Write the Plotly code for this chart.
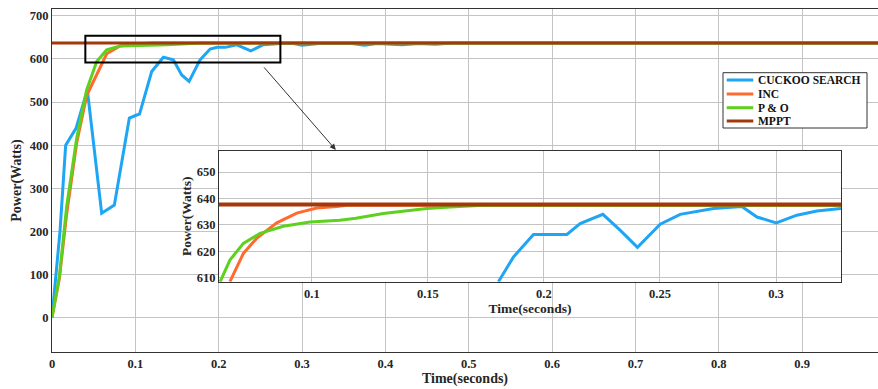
import plotly.graph_objects as go

# ---------------- main chart data ----------------
cs_t = [0, 0.0096, 0.0164, 0.0288, 0.0424, 0.0596, 0.0748, 0.0928, 0.1016, 0.105, 0.1196, 0.1336,
        0.1456, 0.1556, 0.1645, 0.1776, 0.1897, 0.198, 0.208, 0.2217, 0.2385, 0.2536, 0.2737,
        0.29, 0.30, 0.32, 0.36, 0.375, 0.39, 0.42, 0.44, 0.46, 0.48, 0.55, 0.6, 1.0]
cs_p = [0, 200, 400, 439, 528, 242, 261, 463, 470, 472, 571, 604,
        598, 563, 548, 598, 623, 627, 627, 633, 619, 633, 636,
        636, 632, 636, 636, 632, 636, 633, 636, 634, 637, 636, 637, 637]

inc_t = [0, 0.0088, 0.0176, 0.022, 0.0296, 0.0416, 0.0576, 0.0656, 0.0816, 0.1, 0.12, 1.0]
inc_p = [0, 90, 240, 305, 405, 515, 582, 612, 630, 635, 637, 637]

po_t = [0, 0.0088, 0.0176, 0.022, 0.0296, 0.0416, 0.0536, 0.0656, 0.0816, 0.138, 0.18, 1.0]
po_p = [0, 95, 258, 320, 416, 528, 594, 621, 630, 633, 637, 637]

mppt_t = [0, 1.0]
mppt_p = [637, 637]

# ---------------- inset data ----------------
in_cs_t = [0.1804, 0.1869, 0.1955, 0.2099, 0.2156, 0.2254, 0.2328, 0.2403, 0.2501, 0.2587,
           0.2731, 0.2853, 0.2918, 0.3001, 0.309, 0.3176, 0.328]
in_cs_p = [608.5, 617.9, 626.4, 626.4, 630.5, 634.0, 628.0, 621.5, 630.3, 634.0,
           636.2, 637.0, 633.0, 630.8, 633.7, 635.3, 636.2]

in_inc_t = [0.0647, 0.0705, 0.0762, 0.0849, 0.0935, 0.1021, 0.1107, 0.116, 0.33]
in_inc_p = [608.5, 619.2, 624.9, 630.8, 634.5, 636.4, 637.0, 637.5, 637.5]

in_po_t = [0.0605, 0.0647, 0.0705, 0.0777, 0.0877, 0.0992, 0.112, 0.119, 0.1308, 0.1495, 0.1596,
           0.174, 0.33]
in_po_p = [608.5, 616.7, 623.0, 626.8, 629.5, 631.1, 631.8, 632.5, 634.3, 636.2, 636.8,
           637.5, 637.5]

in_mppt_t = [0.06, 0.33]
in_mppt_p = [637.7, 637.7]

main_x_ticks = [0, 0.1, 0.2, 0.3, 0.4, 0.5, 0.6, 0.7, 0.8, 0.9]
main_x_labels = ["0", "0.1", "0.2", "0.3", "0.4", "0.5", "0.6", "0.7", "0.8", "0.9"]
main_y_ticks = [0, 100, 200, 300, 400, 500, 600, 700]
inset_x_ticks = [0.1, 0.15, 0.2, 0.25, 0.3]
inset_x_labels = ["0.1", "0.15", "0.2", "0.25", "0.3"]
inset_y_ticks = [610, 620, 630, 640, 650]

names = ["CUCKOO SEARCH", "INC", "P & O", "MPPT"]
colors = ["#1EA6F4", "#FF6A2E", "#5ED11E", "#A3380A"]

FONT = "Liberation Serif"
GRID = "#c4c4c4"
W, H = 878, 389
ML, MR, MT, MB = 52, 0, 9, 37
PW, PH = W - ML - MR, H - MT - MB


def px(X):
    return (X - ML) / PW


def py(Y):
    return (H - MB - Y) / PH


fig = go.Figure()

main_series = [(cs_t, cs_p), (inc_t, inc_p), (po_t, po_p), (mppt_t, mppt_p)]
for i, (t, p) in enumerate(main_series):
    fig.add_trace(go.Scatter(x=t, y=p, mode="lines", name=names[i],
                             line=dict(color=colors[i], width=3),
                             xaxis="x", yaxis="y", showlegend=False))

inset_series = [(in_cs_t, in_cs_p), (in_inc_t, in_inc_p), (in_po_t, in_po_p), (in_mppt_t, in_mppt_p)]
for i, (t, p) in enumerate(inset_series):
    fig.add_trace(go.Scatter(x=t, y=p, mode="lines", name=names[i],
                             line=dict(color=colors[i], width=3 if i < 3 else 4),
                             xaxis="x2", yaxis="y2", showlegend=False))

tickf = dict(family=FONT, size=12.5, color="#262626", weight="bold")
titlef = dict(family=FONT, size=14, color="#262626", weight="bold")
ititlef = dict(family=FONT, size=13.5, color="#262626", weight="bold")
common = dict(showgrid=True, gridcolor=GRID, gridwidth=1, zeroline=False,
              showline=True, linecolor="#333333", linewidth=1, mirror=True,
              tickfont=tickf, ticks="", automargin=False)

fig.update_layout(
    width=W, height=H,
    margin=dict(l=ML, r=MR, t=MT, b=MB),
    paper_bgcolor="#ffffff", plot_bgcolor="white",
    showlegend=False,
    xaxis=dict(domain=[0, 1], range=[0, 0.991], tickvals=main_x_ticks, ticktext=main_x_labels,
               title=dict(text="Time(seconds)", font=titlef, standoff=2), **common),
    yaxis=dict(domain=[0, 1], range=[-80, 716], tickvals=main_y_ticks,
               title=dict(text="Power(Watts)", font=titlef, standoff=4), **common),
    xaxis2=dict(domain=[px(219), px(841)], anchor="y2", range=[0.06, 0.328],
                tickvals=inset_x_ticks, ticktext=inset_x_labels,
                title=dict(text="Time(seconds)", font=ititlef, standoff=2), **common),
    yaxis2=dict(domain=[py(281.7), py(151)], anchor="x2", range=[608.5, 658],
                tickvals=inset_y_ticks,
                title=dict(text="Power(Watts)", font=ititlef, standoff=2), **common),
)

# zoom rectangle on main chart
fig.add_shape(type="rect", xref="x", yref="y", x0=0.04, x1=0.274, y0=592, y1=654,
              line=dict(color="black", width=2), fillcolor="rgba(0,0,0,0)", layer="above")

# arrow from rectangle to inset
fig.add_annotation(x=0.3405, y=389, xref="x", yref="y", ax=-73, ay=-84,
                   showarrow=True, arrowhead=2, arrowsize=1.2, arrowwidth=1,
                   arrowcolor="#333333", text="")

# custom compact legend (MATLAB style)
fig.add_shape(type="rect", xref="paper", yref="paper",
              x0=px(723), x1=px(867), y0=py(128), y1=py(72.7),
              line=dict(color="#333333", width=1), fillcolor="white", layer="above")
rows_y = [80, 94, 107.7, 121]
for i, name in enumerate(names):
    fig.add_shape(type="line", xref="paper", yref="paper",
                  x0=px(726.7), x1=px(753.3), y0=py(rows_y[i]), y1=py(rows_y[i]),
                  line=dict(color=colors[i], width=3), layer="above")
    fig.add_annotation(x=px(756), y=py(rows_y[i]), xref="paper", yref="paper",
                       text=name, showarrow=False, xanchor="left", yanchor="middle",
                       font=dict(family=FONT, size=11.5, color="#111111", weight="bold"))

fig.write_html("out.html", config={"displayModeBar": False},
               post_script="document.body.style.margin='0';document.body.style.overflow='hidden';")
